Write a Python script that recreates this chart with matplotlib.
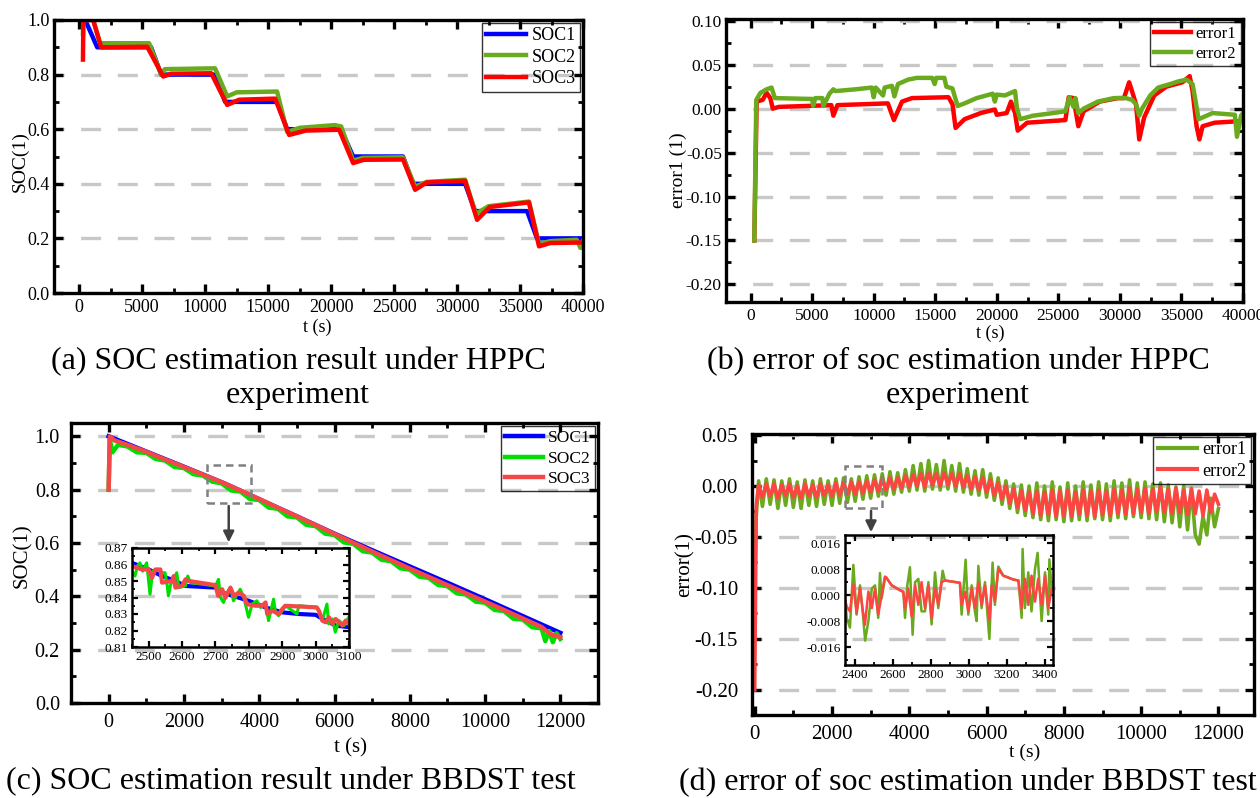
"""SOC estimation results and errors under HPPC and BBDST tests (four panels with insets)."""

import matplotlib

matplotlib.use("Agg")
import matplotlib.pyplot as plt
from matplotlib.patches import Rectangle
from matplotlib.ticker import AutoMinorLocator, FormatStrFormatter, MultipleLocator

plt.rcParams["font.family"] = ["Liberation Serif", "DejaVu Serif"]
plt.rcParams["axes.unicode_minus"] = False

W, H = 1260, 798

BLUE = "#0000ff"
OLIVE = "#6aaa1e"
RED = "#ff0000"
LIME = "#00dd00"
SALMON = "#f44848"
GRID = "#c8c8c8"

# ---------------- (a) HPPC SOC ----------------
hppc_soc1_t = [300, 480, 1430, 5710, 6510, 10790, 11590, 15710, 16510, 20790, 21750,
               25710, 26510, 30640, 31430, 35560, 36350, 40000]
hppc_soc1 = [1.0, 1.0, 0.90, 0.90, 0.80, 0.80, 0.70, 0.70, 0.60, 0.60, 0.50,
             0.50, 0.40, 0.40, 0.30, 0.30, 0.20, 0.20]
hppc_soc2_t = [300, 320, 1110, 1650, 5550, 6510, 6800, 10790, 11750, 12500, 15710, 16510,
               17500, 20300, 20800, 21750, 22500, 25710, 26670, 27600, 30640, 31500,
               32500, 35710, 36510, 37400, 39500, 39800, 40000]
hppc_soc2 = [0.95, 1.0, 1.0, 0.915, 0.915, 0.80, 0.82, 0.823, 0.72, 0.735, 0.738, 0.59,
             0.605, 0.615, 0.61, 0.485, 0.495, 0.497, 0.39, 0.407, 0.415, 0.29,
             0.318, 0.335, 0.18, 0.19, 0.195, 0.165, 0.19]
hppc_soc3_t = [300, 330, 1110, 1750, 5400, 6670, 7300, 10480, 11750, 12700, 15560, 16670,
               18000, 20640, 21750, 22600, 25710, 26670, 27600, 30640, 31590, 32600,
               35710, 36510, 37400, 40000]
hppc_soc3 = [0.855, 1.0, 1.0, 0.900, 0.902, 0.793, 0.803, 0.805, 0.689, 0.708, 0.712, 0.579,
             0.595, 0.598, 0.476, 0.488, 0.489, 0.378, 0.405, 0.411, 0.268, 0.315,
             0.332, 0.171, 0.183, 0.185]

# ---------------- (b) HPPC error ----------------
hppc_err1_t = [300, 490, 980, 1300, 1600, 1800, 2300, 6560, 6720, 7050, 11150, 11640, 12300,
               13110, 16070, 16400, 16650, 17380, 18700, 19840, 20000, 20800, 21150, 21480,
               21700, 22460, 25570, 25840, 26230, 26620, 27050, 28360, 29840, 30330, 30750,
               30980, 31310, 31570, 31970, 32790, 33770, 35080, 35670, 35900, 36230, 36460,
               36720, 37700, 40000]
hppc_err1 = [-0.15, 0.008, 0.010, 0.018, 0.012, 0.0, 0.002, 0.004, -0.008, 0.004, 0.006, -0.013,
             0.008, 0.012, 0.013, 0.005, -0.022, -0.012, -0.005, -0.001, -0.007, -0.005, 0.008,
             -0.005, -0.025, -0.016, -0.013, 0.013, 0.012, -0.020, -0.003, 0.008, 0.012, 0.012,
             0.030, 0.020, 0.005, -0.035, -0.010, 0.015, 0.025, 0.030, 0.037, 0.020, -0.020,
             -0.035, -0.020, -0.016, -0.014]
hppc_err2_t = [300, 460, 800, 1300, 1700, 1970, 5000, 5080, 5250, 5830, 5900, 6230, 6400, 6720,
               6890, 8520, 9840, 10000, 10160, 10760, 10890, 11480, 11680, 11970, 12790, 13500,
               14750, 14950, 15080, 15740, 15900, 16390, 16820, 17380, 18360, 19670, 19840,
               20000, 20660, 21480, 21640, 21900, 22950, 24590, 25570, 25900, 26230, 26390,
               26620, 27050, 28200, 29510, 30490, 30980, 31310, 31570, 31800, 32460, 33110,
               34100, 34750, 35410, 35900, 36130, 36390, 36720, 37540, 39340, 39510, 39840,
               40000]
hppc_err2 = [-0.15, 0.010, 0.018, 0.022, 0.024, 0.012, 0.011, 0.003, 0.012, 0.012, 0.003, 0.012,
             0.017, 0.022, 0.020, 0.022, 0.024, 0.013, 0.024, 0.015, 0.024, 0.026, 0.014, 0.028,
             0.033, 0.035, 0.035, 0.028, 0.035, 0.035, 0.025, 0.023, 0.003, 0.006, 0.012, 0.017,
             0.008, 0.016, 0.015, 0.020, 0.0, -0.012, -0.008, -0.005, -0.003, 0.013, 0.002,
             0.012, -0.005, 0.0, 0.008, 0.012, 0.012, 0.010, 0.005, -0.008, 0.0, 0.015, 0.024,
             0.028, 0.031, 0.033, 0.028, 0.010, -0.012, -0.010, -0.005, -0.007, -0.032,
             -0.008, -0.005]

# ---------------- (c) BBDST SOC ----------------
bbdst_soc1_t = [0, 1000, 2000, 2500, 3100, 4000, 5000, 6000, 7000, 8000, 9000, 10000, 11000, 12000]
bbdst_soc1 = [1.0, 0.943, 0.886, 0.857, 0.822, 0.764, 0.700, 0.635, 0.573, 0.512, 0.451,
              0.389, 0.326, 0.263]
bbdst_soc2_t = [0, 30, 100, 250, 500, 750, 1000, 1250, 1500, 1750, 2000, 2250, 2500, 2750,
                3000, 3250, 3500, 3750, 4000, 4250, 4500, 4750, 5000, 5250, 5500, 5750, 6000,
                6250, 6500, 6750, 7000, 7250, 7500, 7750, 8000, 8250, 8500, 8750, 9000, 9250,
                9500, 9750, 10000, 10250, 10500, 10750, 11000, 11250, 11500, 11600, 11700,
                11800, 11900, 12000]
bbdst_soc2 = [0.80, 0.99, 0.94, 0.968, 0.962, 0.940, 0.938, 0.915, 0.909, 0.885, 0.881, 0.858,
              0.853, 0.830, 0.824, 0.797, 0.793, 0.765, 0.761, 0.733, 0.728, 0.700, 0.696,
              0.668, 0.663, 0.635, 0.630, 0.602, 0.597, 0.569, 0.564, 0.537, 0.532, 0.505,
              0.500, 0.474, 0.469, 0.443, 0.438, 0.411, 0.407, 0.380, 0.376, 0.349, 0.345,
              0.316, 0.313, 0.284, 0.280, 0.232, 0.270, 0.228, 0.262, 0.240]
bbdst_soc3_t = [0, 30, 150, 500, 1000, 1500, 2000, 2500, 3000, 3500, 4000, 4500, 5000, 5500,
                6000, 6500, 7000, 7500, 8000, 8500, 9000, 9500, 10000, 10500, 11000, 11500,
                11700, 11800, 12000]
bbdst_soc3 = [0.80, 1.0, 0.985, 0.968, 0.942, 0.913, 0.885, 0.857, 0.828, 0.797, 0.765, 0.732,
              0.700, 0.667, 0.634, 0.601, 0.568, 0.536, 0.504, 0.473, 0.442, 0.411, 0.380,
              0.349, 0.317, 0.285, 0.262, 0.255, 0.247]

# inset of (c)
zoom_soc1_t = [2450, 2500, 2540, 2580, 2610, 2700, 2720, 2800, 2850, 2900, 2950, 3000, 3030,
               3060, 3100]
zoom_soc1 = [0.861, 0.857, 0.853, 0.850, 0.847, 0.846, 0.843, 0.838, 0.834, 0.831, 0.830,
             0.8295, 0.826, 0.823, 0.822]
zoom_soc2_t = [2450, 2459, 2466, 2474, 2482, 2494, 2504, 2512, 2530, 2540, 2549, 2555, 2559,
               2566, 2584, 2590, 2610, 2617, 2625, 2700, 2709, 2715, 2724, 2735, 2745, 2754,
               2765, 2774, 2785, 2799, 2810, 2824, 2835, 2850, 2859, 2874, 2880, 2889, 2900,
               2910, 2944, 2950, 3005, 3020, 3034, 3039, 3050, 3059, 3070, 3085, 3099]
zoom_soc2 = [0.856, 0.853, 0.859, 0.861, 0.856, 0.861, 0.842, 0.856, 0.857, 0.855, 0.855,
             0.848, 0.841, 0.848, 0.855, 0.846, 0.847, 0.853, 0.849, 0.847, 0.851, 0.840,
             0.837, 0.843, 0.846, 0.838, 0.842, 0.845, 0.840, 0.828, 0.836, 0.838, 0.834,
             0.836, 0.826, 0.839, 0.831, 0.829, 0.832, 0.835, 0.830, 0.835, 0.834, 0.826,
             0.836, 0.824, 0.827, 0.819, 0.826, 0.823, 0.828]
zoom_soc3_t = [2450, 2480, 2500, 2510, 2520, 2535, 2540, 2570, 2575, 2580, 2600, 2610, 2620,
               2700, 2708, 2720, 2730, 2745, 2755, 2770, 2785, 2794, 2820, 2840, 2850, 2855,
               2870, 2890, 2900, 2909, 3003, 3010, 3020, 3030, 3040, 3050, 3060, 3070, 3080,
               3090, 3100]
zoom_soc3 = [0.859, 0.857, 0.857, 0.852, 0.857, 0.857, 0.849, 0.850, 0.853, 0.846, 0.847,
             0.851, 0.850, 0.8475, 0.841, 0.845, 0.840, 0.846, 0.841, 0.843, 0.841, 0.836,
             0.835, 0.835, 0.837, 0.830, 0.832, 0.830, 0.833, 0.835, 0.834, 0.832, 0.826,
             0.825, 0.828, 0.824, 0.827, 0.825, 0.823, 0.826, 0.824]

# ---------------- (d) BBDST error ----------------
bbdst_t = [0, 40, 100, 200, 300, 400, 500, 600, 700, 800, 900, 1000, 1100, 1200, 1300, 1400,
           1500, 1600, 1700, 1800, 1900, 2000, 2100, 2200, 2300, 2400, 2500, 2600, 2700, 2800,
           2900, 3000, 3100, 3200, 3300, 3400, 3500, 3600, 3700, 3800, 3900, 4000, 4100, 4200,
           4300, 4400, 4500, 4600, 4700, 4800, 4900, 5000, 5100, 5200, 5300, 5400, 5500, 5600,
           5700, 5800, 5900, 6000, 6100, 6200, 6300, 6400, 6500, 6600, 6700, 6800, 6900, 7000,
           7100, 7200, 7300, 7400, 7500, 7600, 7700, 7800, 7900, 8000, 8100, 8200, 8300, 8400,
           8500, 8600, 8700, 8800, 8900, 9000, 9100, 9200, 9300, 9400, 9500, 9600, 9700, 9800,
           9900, 10000, 10100, 10200, 10300, 10400, 10500, 10600, 10700, 10800, 10900, 11000,
           11100, 11200, 11300, 11400, 11500, 11600, 11700, 11800, 11900, 12000]
bbdst_err1 = [-0.10, -0.03,
              0.005, -0.020, 0.007, -0.018, 0.006, -0.022, 0.005, -0.019, 0.007, -0.021,
              0.004, -0.022, 0.006, -0.019, 0.005, -0.020, 0.007, -0.018, 0.005, -0.019,
              0.007, -0.017, 0.008, -0.016, 0.007, -0.015, 0.009, -0.013, 0.010, -0.012,
              0.011, -0.010, 0.012, -0.009, 0.014, -0.008, 0.013, -0.006, 0.016, -0.005,
              0.020, -0.004, 0.022, -0.005, 0.025, -0.003, 0.021, -0.004, 0.025, -0.003,
              0.020, -0.005, 0.022, -0.006, 0.017, -0.008, 0.015, -0.009, 0.016, -0.011,
              0.012, -0.014, 0.008, -0.018, 0.005, -0.022, 0.002, -0.026, 0.001, -0.029,
              0.000, -0.031, 0.003, -0.033, 0.000, -0.034, 0.004, -0.033, -0.001, -0.035,
              0.003, -0.034, 0.000, -0.033, 0.004, -0.034, 0.001, -0.032, 0.004, -0.033,
              0.002, -0.034, 0.005, -0.031, 0.003, -0.032, 0.006, -0.030, 0.003, -0.031,
              0.004, -0.032, 0.002, -0.033, 0.003, -0.035, 0.001, -0.036, -0.001, -0.040,
              0.000, -0.043, -0.002, -0.048, -0.057, -0.030, -0.048, -0.012, -0.040, -0.022]
bbdst_err2 = [-0.20, -0.02,
              0.001, -0.011, 0.002, -0.010, 0.002, -0.012, 0.001, -0.009, 0.002, -0.011,
              0.000, -0.012, 0.002, -0.010, 0.001, -0.011, 0.002, -0.009, 0.001, -0.010,
              0.003, -0.009, 0.003, -0.008, 0.004, -0.008, 0.004, -0.007, 0.005, -0.006,
              0.006, -0.005, 0.007, -0.004, 0.008, -0.003, 0.008, -0.002, 0.010, -0.001,
              0.011, 0.000, 0.012, -0.001, 0.013, 0.001, 0.012, 0.000, 0.013, 0.001,
              0.012, 0.000, 0.012, -0.001, 0.010, -0.003, 0.009, -0.004, 0.008, -0.006,
              0.006, -0.009, 0.003, -0.013, 0.000, -0.017, -0.003, -0.021, -0.005, -0.024,
              -0.006, -0.027, -0.005, -0.029, -0.006, -0.028, -0.004, -0.030, -0.005, -0.029,
              -0.004, -0.030, -0.006, -0.028, -0.004, -0.029, -0.005, -0.030, -0.004, -0.028,
              -0.005, -0.029, -0.003, -0.027, -0.004, -0.028, -0.002, -0.027, -0.003, -0.026,
              -0.002, -0.027, -0.003, -0.025, -0.001, -0.026, -0.003, -0.027, -0.002, -0.026,
              -0.004, -0.028, -0.003, -0.027, -0.005, -0.029, -0.004, -0.026, -0.008, -0.018]

# inset of (d)
zoom_err1_t = [2350, 2356, 2373, 2391, 2408, 2426, 2440, 2453, 2470, 2488, 2505, 2522, 2531,
               2540, 2557, 2563, 2593, 2637, 2654, 2663, 2675, 2689, 2703, 2716, 2733, 2750,
               2768, 2786, 2803, 2821, 2838, 2861, 2873, 2952, 2961, 2982, 2996, 3014, 3031,
               3040, 3049, 3066, 3084, 3107, 3124, 3136, 3154, 3180, 3233, 3260, 3277, 3282,
               3294, 3312, 3329, 3347, 3361, 3382, 3400, 3417, 3423, 3435]
zoom_err1 = [-0.002, -0.007, -0.010, 0.0093, -0.006, 0.003, -0.005, -0.014, -0.008, 0.002,
             0.003, -0.007, 0.0068, -0.001, 0.005, 0.0055, 0.003, 0.0015, 0.001, -0.007, 0.003,
             0.0086, -0.0122, 0.004, 0.005, -0.005, -0.005, 0.004, -0.009, 0.007, -0.004,
             0.0075, 0.0045, 0.0038, -0.006, 0.0109, -0.006, 0.003, -0.005, -0.008, 0.009,
             -0.004, 0.004, -0.0135, 0.010, -0.003, 0.0088, 0.006, 0.0048, 0.0045, -0.007,
             0.0142, -0.004, 0.007, -0.005, 0.008, 0.013, -0.008, 0.007, -0.006, 0.011, 0.002]
zoom_err2_t = [2350, 2356, 2373, 2391, 2408, 2426, 2440, 2452, 2470, 2488, 2505, 2522, 2540,
               2557, 2563, 2593, 2637, 2654, 2663, 2680, 2698, 2716, 2733, 2750, 2768, 2786,
               2803, 2821, 2838, 2856, 2873, 2952, 2961, 2979, 2996, 3014, 3031, 3049, 3066,
               3084, 3107, 3119, 3136, 3154, 3180, 3233, 3260, 3277, 3294, 3312, 3329, 3347,
               3364, 3382, 3400, 3417, 3435]
zoom_err2 = [-0.002, -0.0035, -0.005, 0.0032, -0.0055, 0.0022, -0.0045, -0.0091, 0.0011,
             -0.004, 0.002, -0.006, 0.0, 0.0057, 0.0055, 0.003, 0.0015, 0.001, -0.004, 0.002,
             -0.0066, 0.003, -0.003, 0.004, -0.004, 0.003, -0.007, 0.002, -0.003, 0.004, 0.0045,
             0.0038, -0.003, 0.001, -0.005, 0.002, -0.004, 0.004, -0.003, 0.003, -0.0076, 0.003,
             -0.002, 0.008, 0.006, 0.0048, 0.0045, -0.004, 0.005, -0.003, 0.006, -0.002, 0.005,
             -0.003, 0.006, -0.004, 0.002]


def px_axes(fig, left, top, right, bottom):
    return fig.add_axes([left / W, 1 - bottom / H, (right - left) / W, (bottom - top) / H])


def style_main(ax, size, xmajor, ymajor, yfmt, xpad, ypad):
    for s in ax.spines.values():
        s.set_linewidth(2.4)
    ax.xaxis.set_major_locator(MultipleLocator(xmajor))
    ax.yaxis.set_major_locator(MultipleLocator(ymajor))
    ax.xaxis.set_minor_locator(AutoMinorLocator(2))
    ax.yaxis.set_minor_locator(AutoMinorLocator(2))
    ax.xaxis.set_major_formatter(FormatStrFormatter("%d"))
    ax.yaxis.set_major_formatter(FormatStrFormatter(yfmt))
    ax.tick_params(which="both", direction="in", top=True, right=True, labelsize=size)
    ax.tick_params(which="major", length=6.5, width=2.4)
    ax.tick_params(which="minor", length=3.5, width=2.0)
    ax.tick_params(axis="x", pad=xpad)
    ax.tick_params(axis="y", pad=ypad)
    ax.yaxis.grid(True, color=GRID, linestyle=(3, (6, 5)), linewidth=2.4)
    ax.set_axisbelow(True)


def style_inset(ax, size, xmajor, ymajor, yfmt):
    ax.set_facecolor("none")
    for s in ax.spines.values():
        s.set_linewidth(1.8)
    ax.xaxis.set_major_locator(MultipleLocator(xmajor))
    ax.yaxis.set_major_locator(MultipleLocator(ymajor))
    ax.xaxis.set_minor_locator(AutoMinorLocator(2))
    ax.yaxis.set_minor_locator(AutoMinorLocator(2))
    ax.xaxis.set_major_formatter(FormatStrFormatter("%d"))
    ax.yaxis.set_major_formatter(FormatStrFormatter(yfmt))
    ax.tick_params(which="both", direction="in", top=True, right=True, labelsize=size, pad=3)
    ax.tick_params(which="major", length=4, width=1.6)
    ax.tick_params(which="minor", length=2.2, width=1.3)


def add_legend(ax, size, handlelength=2.2):
    leg = ax.legend(loc="upper right", bbox_to_anchor=(1.0, 1.0), borderaxespad=0.15,
                    fontsize=size, handlelength=handlelength, handletextpad=0.3,
                    labelspacing=0.25, borderpad=0.25, fancybox=False)
    frame = leg.get_frame()
    frame.set_edgecolor("black")
    frame.set_linewidth(1.0)
    frame.set_facecolor("none")
    return leg


fig = plt.figure(figsize=(W / 100, H / 100), dpi=100)

# (a)
ax = px_axes(fig, 54, 20, 583, 293)
ax.plot(hppc_soc1_t, hppc_soc1, color=BLUE, lw=3.2, label="SOC1")
ax.plot(hppc_soc2_t, hppc_soc2, color=OLIVE, lw=3.2, label="SOC2")
ax.plot(hppc_soc3_t, hppc_soc3, color=RED, lw=3.2, label="SOC3")
ax.set_xlim(-2000, 40000)
ax.set_ylim(0, 1.0)
style_main(ax, 13, 5000, 0.2, "%.1f", 4, 3)
add_legend(ax, 13)

# (b)
ax = px_axes(fig, 726, 19, 1243, 302)
ax.plot(hppc_err1_t, hppc_err1, color=RED, lw=3.2, label="error1")
ax.plot(hppc_err2_t, hppc_err2, color=OLIVE, lw=3.2, label="error2")
ax.set_xlim(-2000, 40000)
ax.set_ylim(-0.22, 0.102)
style_main(ax, 12.5, 5000, 0.05, "%.2f", 4, 3)
add_legend(ax, 12)

# (c)
ax = px_axes(fig, 71, 423, 598, 703)
ax.plot(bbdst_soc1_t, bbdst_soc1, color=BLUE, lw=3.2, label="SOC1")
ax.plot(bbdst_soc2_t, bbdst_soc2, color=LIME, lw=3.2, label="SOC2")
ax.plot(bbdst_soc3_t, bbdst_soc3, color=SALMON, lw=3.2, label="SOC3")
ax.set_xlim(-1000, 13000)
ax.set_ylim(0, 1.05)
style_main(ax, 14.5, 2000, 0.2, "%.1f", 7, 8)
add_legend(ax, 12.5)
ax.add_patch(Rectangle((2610, 0.749), 1160, 0.142, fill=False, edgecolor="#808080",
                       linestyle=(0, (3, 2)), linewidth=1.8, zorder=5))
ax.annotate("", xy=(3190, 0.592), xytext=(3190, 0.749),
            arrowprops=dict(arrowstyle="-|>", color="#404040", lw=1.8, mutation_scale=16))

axi = px_axes(fig, 132, 548, 349, 647)
axi.plot(zoom_soc1_t, zoom_soc1, color=BLUE, lw=3)
axi.plot(zoom_soc2_t, zoom_soc2, color=LIME, lw=2.2)
axi.plot(zoom_soc3_t, zoom_soc3, color=SALMON, lw=3)
axi.set_xlim(2450, 3100)
axi.set_ylim(0.81, 0.87)
style_inset(axi, 9.5, 100, 0.01, "%.2f")

# (d)
ax = px_axes(fig, 752, 434, 1254, 715)
ax.plot(bbdst_t, bbdst_err1, color=OLIVE, lw=2.6, label="error1")
ax.plot(bbdst_t, bbdst_err2, color="#ff4444", lw=2.6, label="error2")
ax.set_xlim(-70, 12920)
ax.set_ylim(-0.2246, 0.051)
style_main(ax, 15, 2000, 0.05, "%.2f", 7, 10)
leg = add_legend(ax, 13)
for line in leg.get_lines():
    line.set_linewidth(3)
ax.add_patch(Rectangle((2336, -0.0216), 957, 0.0412, fill=False, edgecolor="#808080",
                       linestyle=(0, (3, 2)), linewidth=1.8, zorder=5))
ax.annotate("", xy=(3010, -0.048), xytext=(3010, -0.0216),
            arrowprops=dict(arrowstyle="-|>", color="#404040", lw=1.8, mutation_scale=16))

axi = px_axes(fig, 845, 535, 1053, 665)
axi.plot(zoom_err1_t, zoom_err1, color=OLIVE, lw=1.8)
axi.plot(zoom_err2_t, zoom_err2, color="#ff4444", lw=1.8)
axi.set_xlim(2347, 3442)
axi.set_ylim(-0.0215, 0.0185)
style_inset(axi, 9.5, 200, 0.008, "%.3f")


# axis titles and captions placed in pixel coordinates
def ftext(x, y, s, size, **kw):
    fig.text(x / W, 1 - y / H, s, fontsize=size, ha="center", va="center", **kw)


ftext(20, 162, "SOC(1)", 14, rotation=90)
ftext(678, 170, "error1 (1)", 14, rotation=90)
ftext(22, 556, "SOC(1)", 15, rotation=90)
ftext(685, 565, "error(1)", 15, rotation=90)

ftext(317, 327, "t (s)", 13)
ftext(990, 333, "t (s)", 13)
ftext(350, 748, "t (s)", 15)
ftext(1025, 752, "t (s)", 14)

ftext(298, 362, "(a) SOC estimation result under HPPC", 23)
ftext(298, 396, "experiment", 23)
ftext(958, 362, "(b) error of soc estimation under HPPC", 23)
ftext(958, 396, "experiment", 23)
ftext(291, 782, "(c) SOC estimation result under BBDST test", 23)
ftext(968, 783, "(d) error of soc estimation under BBDST test", 23)

fig.savefig("out.png", dpi=100)
